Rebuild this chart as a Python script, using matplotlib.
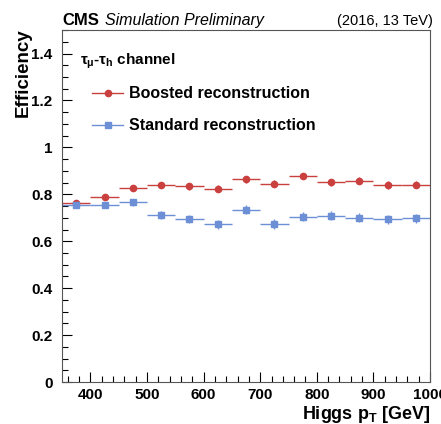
import numpy as np
import matplotlib
matplotlib.use("Agg")
import matplotlib.pyplot as plt
from matplotlib.lines import Line2D
from matplotlib.ticker import MultipleLocator

plt.rcParams["font.family"] = ["Liberation Sans", "DejaVu Sans"]
plt.rcParams["mathtext.fontset"] = "custom"
plt.rcParams["mathtext.rm"] = "Liberation Sans:bold"
plt.rcParams["mathtext.it"] = "Liberation Sans:bold"

# Higgs pT bins, 50 GeV wide
bin_centers = [375, 425, 475, 525, 575, 625, 675, 725, 775, 825, 875, 925, 975]
bin_half = 25

boosted = [0.761, 0.789, 0.827, 0.838, 0.834, 0.824, 0.864, 0.845, 0.878,
           0.851, 0.857, 0.840, 0.841]
boosted_err = [0.010, 0.012, 0.013, 0.013, 0.014, 0.015, 0.014, 0.015, 0.013,
               0.015, 0.015, 0.016, 0.016]
standard = [0.753, 0.756, 0.766, 0.711, 0.695, 0.672, 0.735, 0.673, 0.705,
            0.709, 0.701, 0.694, 0.697]
standard_err = [0.010, 0.012, 0.014, 0.018, 0.019, 0.020, 0.019, 0.020, 0.020,
                0.020, 0.020, 0.020, 0.021]

RED = "#c9403f"
BLUE = "#6d8fd6"

fig = plt.figure(figsize=(4.41, 4.24), dpi=100)
ax = fig.add_axes([0.141, 0.099, 0.834, 0.830])

ax.errorbar(bin_centers, boosted, xerr=bin_half, yerr=boosted_err,
            fmt="o", color=RED, ms=4.5, lw=1.0, capsize=0)
ax.errorbar(bin_centers, standard, xerr=bin_half, yerr=standard_err,
            fmt="s", color=BLUE, ms=4.5, lw=1.0, capsize=0)

ax.set_xlim(350, 1000)
ax.set_ylim(0, 1.5)
ax.xaxis.set_major_locator(MultipleLocator(100))
ax.xaxis.set_minor_locator(MultipleLocator(20))
ax.yaxis.set_minor_locator(MultipleLocator(0.05))
ax.set_yticks([0, 0.2, 0.4, 0.6, 0.8, 1.0, 1.2, 1.4])
ax.set_yticklabels(["0", "0.2", "0.4", "0.6", "0.8", "1", "1.2", "1.4"])
ax.tick_params(which="both", direction="in", top=False, right=False,
               labelsize=11)
ax.tick_params(axis="y", pad=7)
ax.tick_params(axis="x", pad=4)
ax.tick_params(which="major", length=7.5, width=0.8)
ax.tick_params(which="minor", length=4, width=0.8)
for lab in ax.get_xticklabels() + ax.get_yticklabels():
    lab.set_fontweight("bold")
for sp in ax.spines.values():
    sp.set_color("#555555")
    sp.set_linewidth(0.8)

ax.set_ylabel("Efficiency", fontsize=13.5, fontweight="bold")
ax.yaxis.set_label_coords(-0.084, 1.005)
ax.yaxis.label.set_horizontalalignment("right")
ax.set_xlabel(r"Higgs p$_{\mathrm{T}}$ [GeV]", fontsize=13, fontweight="bold")
ax.xaxis.set_label_coords(1.0, -0.062)
ax.xaxis.label.set_horizontalalignment("right")

fig.text(0.141, 0.941, "CMS", fontsize=12, fontweight="bold", va="baseline")
fig.text(0.238, 0.941, "Simulation Preliminary", fontsize=11.5,
         style="italic", va="baseline")
fig.text(0.982, 0.941, "(2016, 13 TeV)", fontsize=10.5, va="baseline",
         ha="right")

ax.text(0.048, 0.91, r"$\tau_{\mu}$-$\tau_{h}$ channel", transform=ax.transAxes,
        fontsize=11, fontweight="bold", va="center")
handles = [
    Line2D([], [], color=RED, marker="o", ms=4.5, lw=1.0),
    Line2D([], [], color=BLUE, marker="s", ms=4.5, lw=1.0),
]
labels = ["Boosted reconstruction", "Standard reconstruction"]
leg = ax.legend(handles, labels, loc="upper left",
                bbox_to_anchor=(0.082, 0.84), frameon=False,
                fontsize=11.5, handlelength=1.95, labelspacing=1.05,
                handletextpad=0.35, borderaxespad=0, borderpad=0)
for t in leg.get_texts():
    t.set_fontweight("bold")

fig.savefig("out.png", dpi=100)
